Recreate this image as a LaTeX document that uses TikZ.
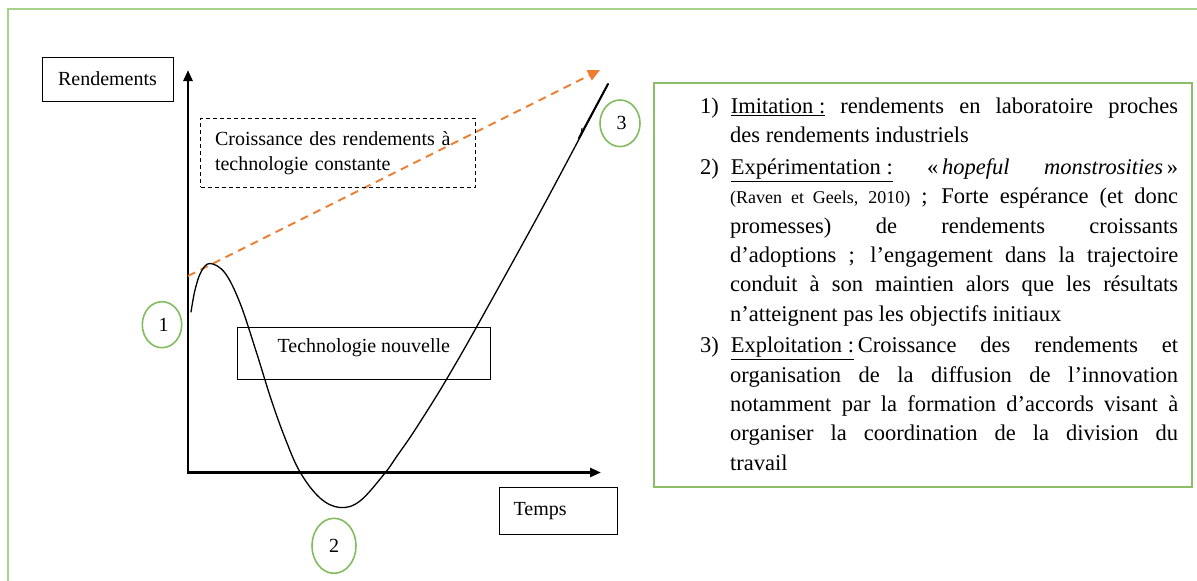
\documentclass[tikz,border=0pt]{standalone}
\usepackage{fontspec}
\setmainfont{Liberation Serif}
\usetikzlibrary{arrows.meta,shapes.geometric}

\definecolor{framegreen}{RGB}{169,209,142}
\definecolor{boxgreen}{RGB}{140,190,105}
\definecolor{ringgreen}{RGB}{130,188,95}
\definecolor{trendorange}{RGB}{237,125,49}

\newcommand\labfont{\fontsize{20}{25}\selectfont}
\newcommand\notesfont{\fontsize{22.5}{29.3}\selectfont}
\newcommand\citefont{\fontsize{18}{29.3}\selectfont}

\begin{document}
\begin{tikzpicture}[x=1pt,y=-1pt,
  axis/.style={line width=2.6, line join=miter,
    {Triangle[length=11,width=9]}-{Triangle[length=11,width=9]}},
  trend/.style={trendorange, line width=2, dash pattern=on 8pt off 6pt,
    -{Triangle[length=12,width=11]}},
  plainbox/.style={draw, line width=1, font=\labfont, inner sep=0},
  dashbox/.style={draw, line width=1, dash pattern=on 4pt off 3pt,
    font=\labfont, inner ysep=0, inner xsep=14.5, align=left},
  ring/.style={draw=ringgreen, line width=1.6, ellipse, inner sep=0,
    font=\labfont},
  curve/.style={line width=1.3, line cap=round, line join=round}
]
\clip (0,0) rectangle (1197,581);
\fill[white] (0,0) rectangle (1197,581);

% outer frame, running off the page to the right and bottom
\draw[framegreen, line width=2] (8,9) rectangle (1230,610);

% axes
\coordinate (ytip) at (188,70);
\coordinate (orig) at (188,472.5);
\coordinate (xtip) at (601,472.5);
\draw[axis] (ytip) -- (orig) -- (xtip);

% trend at constant technology
\coordinate (trendA) at (188,276);
\coordinate (trendB) at (600,70);
\draw[trend] (trendA) -- (trendB);

% yield trajectory of the new technology
\draw[curve] plot[smooth, tension=0.6] coordinates {
  (191,312) (195,290) (201,272) (210,263.5) (225,273) (240,303)
  (256,351) (271,399) (285,438) (300,472) (320,498) (340,507.5)
  (360,501) (385,473) (397,456) (410,437.5) (422,419) (434,400)
  (447,378.5) (476,328) (545,203) (608,84)};
\draw[line width=2, line cap=round] (579,138) -- (608,84);
\draw[line width=1] (581,135) -- (582,128);

% labels
\node[plainbox, minimum width=131, minimum height=44] (rend) at (107.5,79) {Rendements};
\node[dashbox, text width=245.5, minimum height=69] (const) at (337.75,152.8)
  {Croissance des rendements à\\technologie constante};
\node[plainbox, minimum width=252.3, minimum height=51.6, text height=14, text depth=16]
  (tech) at (363.85,353.5) {Technologie nouvelle};
\node[plainbox, text width=89.4, inner xsep=14, align=left, minimum height=47]
  (temps) at (558.3,510.8) {Temps};

% phase markers
\node[ring, minimum width=39.4, minimum height=46] (p1) at (162,324.7) {\,1};
\node[ring, minimum width=44, minimum height=55] (p2) at (334,545.8) {2};
\node[ring, minimum width=40, minimum height=46.6] (p3) at (620,123.3) {\,3};

% phase descriptions
\node[draw=boxgreen, line width=1.2, minimum width=538, minimum height=404, inner sep=0]
  (notes) at (923,285) {};
\node[anchor=north west, inner sep=0, text width=478, align=justify, font=\notesfont]
  (phases) at (700,84) {%
\begin{list}{\arabic{enumi})}{\usecounter{enumi}%
  \setlength{\leftmargin}{30pt}\setlength{\labelwidth}{18pt}%
  \setlength{\labelsep}{12pt}\setlength{\itemsep}{2.5pt}%
  \setlength{\topsep}{0pt}\setlength{\partopsep}{0pt}%
  \setlength{\parsep}{0pt}\setlength{\itemindent}{0pt}}
\item \underline{Imitation :} rendements en laboratoire proches\linebreak
des rendements industriels
\item \underline{Expérimentation :} «\,\textit{hopeful} \textit{monstrosities}\,»\linebreak
{\citefont(Raven et Geels, 2010)} ; Forte espérance (et donc\linebreak
promesses) de rendements croissants\linebreak
d’adoptions ; l’engagement dans la trajectoire\linebreak
conduit à son maintien alors que les résultats\linebreak
n’atteignent pas les objectifs initiaux
\item \underline{Exploitation :}\,Croissance des rendements et\linebreak
organisation de la diffusion de l’innovation\linebreak
notamment par la formation d’accords visant à\linebreak
organiser la coordination de la division du\linebreak
travail
\end{list}};
\end{tikzpicture}
\end{document}
